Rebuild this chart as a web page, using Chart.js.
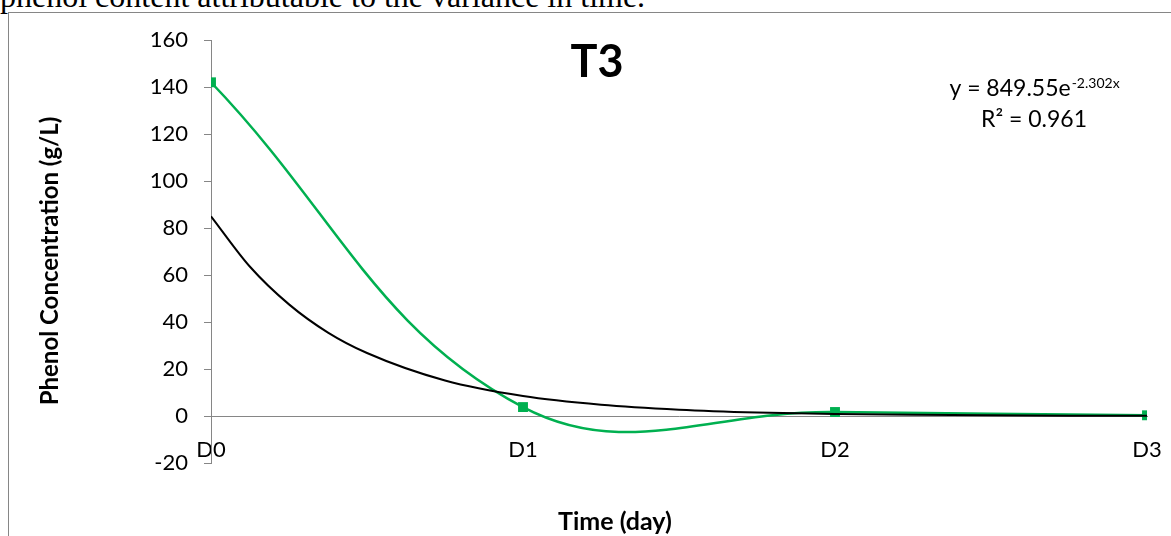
<!DOCTYPE html>
<html>
<head>
<meta charset="utf-8">
<script src="https://cdn.jsdelivr.net/npm/chart.js@4.4.1/dist/chart.umd.min.js"></script>
<style>
  html, body { margin: 0; padding: 0; background: #fff; overflow: hidden; }
  body { width: 1171px; height: 536px; position: relative; }
  #lead { position: absolute; left: 0; top: -20px; font: 32px/32px "Liberation Serif", "Times New Roman", serif; white-space: nowrap; color: #000; }
  #frame { position: absolute; left: 8px; top: 12px; width: 1200px; height: 600px; border-left: 1px solid #868686; border-top: 1px solid #868686; }
  #wrap { position: absolute; left: 9px; top: 13px; width: 1162px; height: 523px; }
</style>
</head>
<body>
<div id="lead">phenol content attributable to the variance in time.</div>
<div id="frame"></div>
<div id="wrap"><canvas id="t3-chart" width="1162" height="523"></canvas></div>
<script>
// measured values
const days = ['D0', 'D1', 'D2', 'D3'];
const phenol = [142, 3.8, 1.7, 0.3];

const trendDay = [0, 0.125, 0.25, 0.375, 0.5, 0.75, 1, 1.25, 1.5, 1.75, 2, 2.25, 2.5, 2.75, 3];
const trendVal = [85, 63.5, 47.5, 35.5, 26.8, 15.1, 8.5, 4.8, 2.7, 1.5, 0.85, 0.48, 0.27, 0.15, 0.09];

const yTicks = [-20, 0, 20, 40, 60, 80, 100, 120, 140, 160];

const green = '#00B050';
const axisGrey = '#868686';

// titles and the trendline equation, drawn on top of the chart
const notes = {
    id: 'notes',
    afterDraw(chart) {
        const ctx = chart.ctx;
        ctx.save();
        ctx.fillStyle = '#000';

        ctx.textAlign = 'center';
        ctx.textBaseline = 'middle';
        ctx.font = 'bold 45px Lato';
        ctx.fillText('T3', 588, 49);

        ctx.font = 'bold 25px Lato';
        ctx.fillText('Time (day)', 606, 509);

        ctx.save();
        ctx.translate(41, 248);
        ctx.rotate(-Math.PI / 2);
        ctx.font = 'bold 24px Lato';
        ctx.fillText('Phenol Concentration (g/L)', 0, 0);
        ctx.restore();

        // y = 849.55e^-2.302x
        ctx.textBaseline = 'alphabetic';
        ctx.textAlign = 'left';
        const main = 'y = 849.55e';
        const sup = '-2.302x';
        ctx.font = '23px Lato';
        const w1 = ctx.measureText(main).width;
        ctx.font = '14px Lato';
        const w2 = ctx.measureText(sup).width;
        const x0 = 1025 - (w1 + w2) / 2;
        ctx.font = '23px Lato';
        ctx.fillText(main, x0, 83);
        ctx.font = '14px Lato';
        ctx.fillText(sup, x0 + w1 + 1, 75);

        ctx.textAlign = 'center';
        ctx.font = '23px Lato';
        ctx.fillText('R² = 0.961', 1025, 114);
        ctx.restore();
    }
};

function drawChart() {
    const ctx = document.getElementById('t3-chart').getContext('2d');
    Chart.defaults.font.family = 'Lato';
    Chart.defaults.color = '#000';

    new Chart(ctx, {
        type: 'line',
        data: {
            datasets: [{
                label: 'Trend',
                data: trendDay.map((d, i) => ({ x: d, y: trendVal[i] })),
                borderColor: '#000',
                borderWidth: 2,
                pointRadius: 0,
                cubicInterpolationMode: 'monotone',
                fill: false,
                order: 0
            }, {
                label: 'T3',
                data: days.map((d, i) => ({ x: i, y: phenol[i] })),
                borderColor: green,
                backgroundColor: green,
                borderWidth: 2.5,
                pointStyle: 'rect',
                pointRadius: 7,
                pointBorderWidth: 0,
                pointBackgroundColor: green,
                tension: 0.4,
                fill: false,
                order: 1
            }]
        },
        plugins: [notes],
        options: {
            responsive: false,
            animation: false,
            devicePixelRatio: 1,
            layout: { padding: { top: 27, bottom: 73, left: 0, right: 24 } },
            plugins: {
                legend: { display: false },
                tooltip: { enabled: false }
            },
            scales: {
                x: {
                    type: 'linear',
                    min: 0,
                    max: 3,
                    position: { y: 0 },
                    afterBuildTicks: (scale) => {
                        scale.ticks = days.map((d, i) => ({ value: i }));
                    },
                    afterFit: (scale) => {
                        scale.paddingLeft = 0;
                        scale.paddingRight = 0;
                    },
                    ticks: {
                        callback: (v) => days[v],
                        autoSkip: false,
                        maxRotation: 0,
                        padding: 21,
                        font: { size: 22 }
                    },
                    grid: { display: false, drawTicks: false },
                    border: { display: true, color: axisGrey, width: 1 }
                },
                y: {
                    min: -20,
                    max: 160,
                    afterBuildTicks: (scale) => {
                        scale.ticks = yTicks.map(v => ({ value: v }));
                    },
                    afterFit: (scale) => {
                        scale.width = 202;
                        scale.paddingTop = 0;
                        scale.paddingBottom = 0;
                    },
                    ticks: { padding: 16, font: { size: 22 } },
                    grid: {
                        drawOnChartArea: false,
                        drawTicks: true,
                        tickLength: 7,
                        color: axisGrey,
                        lineWidth: 1
                    },
                    border: { display: true, color: axisGrey, width: 1 }
                }
            }
        }
    });
}

Promise.all([
    document.fonts.load('22px Lato'),
    document.fonts.load('bold 22px Lato')
]).then(drawChart, drawChart);
</script>
</body>
</html>
